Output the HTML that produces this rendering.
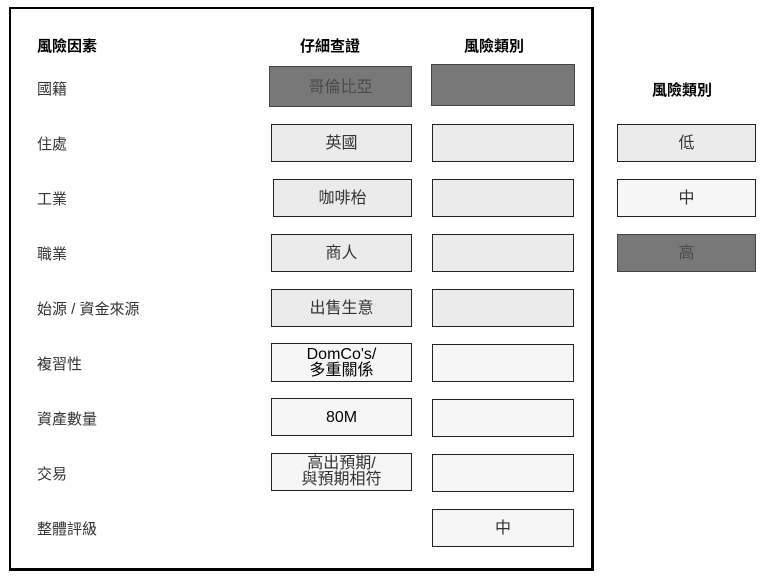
<!DOCTYPE html>
<html><head><meta charset="utf-8"><style>
body{margin:0;width:769px;height:577px;background:#fff;position:relative;overflow:hidden;font-family:"Liberation Sans","Noto Sans CJK TC",sans-serif;}
.f{position:absolute;left:9px;top:7px;width:580px;height:559px;border:2px solid #000;border-right-width:3px;border-bottom-width:3px;}
.t{position:absolute;font-size:15px;color:#333;}
.h{position:absolute;font-size:15px;font-weight:bold;color:#000;}
.b{position:absolute;box-sizing:border-box;border:1px solid #222;background:#ebebeb;font-size:16px;color:#333;display:flex;align-items:center;justify-content:center;text-align:center;line-height:16px;padding-top:2px;}
.d{background:#787878;color:#4a4a4a;border-color:#444;}
.w{background:#f6f6f6;}
</style></head><body>
<div class="f"></div>
<div class="h" style="left:37px;top:35px">風險因素</div>
<div class="h" style="left:300px;top:35px">仔細查證</div>
<div class="h" style="left:464px;top:35px">風險類別</div>
<div class="h" style="left:652px;top:79px">風險類別</div>

<div class="t" style="left:37px;top:78px">國籍</div>
<div class="t" style="left:37px;top:133px">住處</div>
<div class="t" style="left:37px;top:188px">工業</div>
<div class="t" style="left:37px;top:243px">職業</div>
<div class="t" style="left:37px;top:298px">始源 / 資金來源</div>
<div class="t" style="left:37px;top:353px">複習性</div>
<div class="t" style="left:37px;top:408px">資產數量</div>
<div class="t" style="left:37px;top:463px">交易</div>
<div class="t" style="left:37px;top:518px">整體評級</div>

<div class="b d" style="left:269px;top:66px;width:143px;height:41px">哥倫比亞</div>
<div class="b" style="left:271px;top:124px;width:141px;height:38px">英國</div>
<div class="b" style="left:273px;top:179px;width:139px;height:38px">咖啡枱</div>
<div class="b" style="left:271px;top:234px;width:141px;height:38px">商人</div>
<div class="b" style="left:271px;top:289px;width:141px;height:38px">出售生意</div>
<div class="b w" style="left:271px;top:343px;width:141px;height:39px;color:#000;padding-top:0">DomCo's/<br>多重關係</div>
<div class="b w" style="left:271px;top:398px;width:141px;height:38px;color:#000">80M</div>
<div class="b w" style="left:271px;top:453px;width:141px;height:38px;padding-top:0">高出預期/<br>與預期相符</div>

<div class="b d" style="left:431px;top:64px;width:144px;height:42px"></div>
<div class="b" style="left:432px;top:124px;width:142px;height:38px"></div>
<div class="b" style="left:432px;top:179px;width:142px;height:38px"></div>
<div class="b" style="left:432px;top:234px;width:142px;height:38px"></div>
<div class="b" style="left:432px;top:289px;width:142px;height:38px"></div>
<div class="b w" style="left:432px;top:344px;width:142px;height:38px"></div>
<div class="b w" style="left:432px;top:399px;width:142px;height:38px"></div>
<div class="b w" style="left:432px;top:454px;width:142px;height:38px"></div>
<div class="b w" style="left:432px;top:509px;width:142px;height:38px">中</div>

<div class="b" style="left:617px;top:124px;width:139px;height:38px">低</div>
<div class="b w" style="left:617px;top:179px;width:139px;height:38px">中</div>
<div class="b d" style="left:617px;top:234px;width:139px;height:38px">高</div>
</body></html>
